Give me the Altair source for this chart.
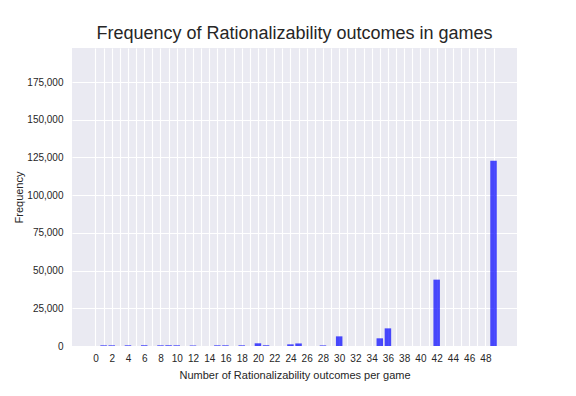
import altair as alt
import pandas as pd

outcomes = [1, 2, 4, 6, 8, 9, 10, 12, 15, 16, 18, 20, 21, 24, 25, 28, 30, 35, 36, 42, 49]
frequency = [450, 450, 450, 450, 450, 450, 450, 350, 450, 450, 450, 1800, 500, 1100, 1700, 400, 6400, 5100, 11700, 44000, 122800]

x_grid = list(range(0, 50))
y_ticks = list(range(0, 175001, 25000))

df = pd.DataFrame({"outcomes": outcomes, "frequency": frequency})

FONT = "Liberation Sans"
TXT = "#262626"

chart = (
    alt.Chart(df)
    .transform_calculate(x0="datum.outcomes - 0.4", x1="datum.outcomes + 0.4")
    .mark_bar(color="#0000FF", opacity=0.7)
    .encode(
        x=alt.X(
            "x0:Q",
            scale=alt.Scale(domain=[-2.89, 51.89], nice=False, zero=False),
            axis=alt.Axis(
                values=x_grid,
                labelExpr="datum.value % 2 == 0 ? datum.label : ''",
                title="Number of Rationalizability outcomes per game",
                ticks=False,
                domain=False,
                labelPadding=7,
                titlePadding=6,
                format="d",
            ),
        ),
        x2="x1:Q",
        y=alt.Y(
            "frequency:Q",
            scale=alt.Scale(domain=[0, 197600], nice=False),
            axis=alt.Axis(
                values=y_ticks,
                format=",d",
                title="Frequency",
                ticks=False,
                domain=False,
                labelPadding=9,
                titlePadding=2,
            ),
        ),
        y2=alt.datum(0),
    )
    .properties(
        width=445,
        height=298,
        title=alt.Title(
            "Frequency of Rationalizability outcomes in games",
            fontSize=18,
            font=FONT,
            fontWeight="normal",
            color=TXT,
            anchor="middle",
            offset=5,
        ),
        autosize=alt.AutoSizeParams(type="none"),
        padding={"left": 64, "top": 40, "right": 51, "bottom": 42},
    )
    .configure_view(fill="#EAEAF2", stroke=None)
    .configure_axis(
        grid=True,
        gridColor="white",
        gridWidth=1.1,
        labelFont=FONT,
        labelFontSize=10,
        labelColor=TXT,
        titleFont=FONT,
        titleFontSize=11,
        titleFontWeight="normal",
        titleColor=TXT,
    )
)

chart.save("out.html", embed_options={"renderer": "svg", "actions": False})
